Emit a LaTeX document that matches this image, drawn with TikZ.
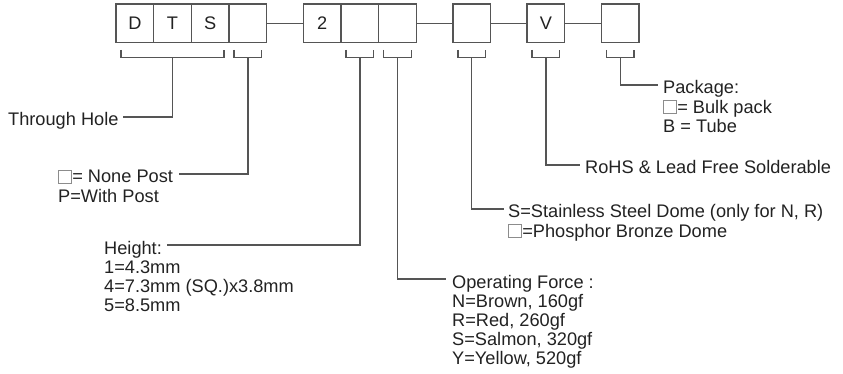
\documentclass[tikz,border=0pt]{standalone}
\usepackage{fontspec}
\setmainfont{Liberation Sans}
\usetikzlibrary{positioning,calc}

\definecolor{ink}{HTML}{222222}
\definecolor{wire}{HTML}{555555}
\definecolor{sqgray}{HTML}{8C8C8C}

% small empty square used inside the legend texts
\newcommand{\emptysq}{\textcolor{sqgray}{\setlength{\fboxsep}{0pt}\setlength{\fboxrule}{0.9pt}\fbox{\rule{0pt}{12.3pt}\hspace{12.3pt}}}}
% bracket under a run of cells, with a coordinate at its middle
\newcommand{\partbracket}[3]{%
  \draw[link] ($(#1.south west)+(5,7.5)$) -- ++(0,7.5) -- coordinate (#3) ($(#2.south east)+(-5,15)$) -- ++(0,-7.5);}

\begin{document}
\begin{tikzpicture}[x=1pt, y=-1pt, font=\fontsize{18.2}{19}\selectfont, text=ink,
  node distance=0pt and 36.5pt,
  cell/.style={draw=wire, line width=1.3pt, minimum width=37.7pt, minimum height=38.5pt, inner sep=0pt, outer sep=0pt},
  link/.style={draw=wire, line width=1.3pt},
  head/.style={inner sep=0pt, text height=18pt, text depth=0pt, anchor=base west},
  body/.style={inner sep=0pt, align=left, anchor=north west}]
  \useasboundingbox (0,0) rectangle (843,374);
  % part number cells
  \node[cell] (d) at (134.85,23.25) {D};
  \node[cell, right=0pt of d] (t) {T};
  \node[cell, right=0pt of t] (s) {S};
  \node[cell, right=0pt of s] (p) {};
  \node[cell, right=of p] (n) {2};
  \node[cell, right=0pt of n] (h) {};
  \node[cell, right=0pt of h] (f) {};
  \node[cell, right=of f] (m) {};
  \node[cell, right=of m] (v) {V};
  \node[cell, right=of v] (k) {};
  \draw[link] (p) -- (n);
  \draw[link] (f) -- (m);
  \draw[link] (m) -- (v);
  \draw[link] (v) -- (k);
  % brackets
  \partbracket{d}{s}{dtsb}
  \partbracket{p}{p}{postb}
  \partbracket{h}{h}{heightb}
  \partbracket{f}{f}{forceb}
  \partbracket{m}{m}{domeb}
  \partbracket{v}{v}{rohsb}
  \partbracket{k}{k}{packb}
  % legends
  \node[head] (thru) at (8,126) {Through Hole};
  \node[head] (post) at (58,183) {\emptysq= None Post};
  \node[below=5.7pt of post.base west, body] (postx) {\strut P=With Post};
  \node[head] (height) at (104,254) {Height:};
  \node[below=5.7pt of height.base west, body] (heightx) {\strut 1=4.3mm\\\strut 4=7.3mm (SQ.)x3.8mm\\\strut 5=8.5mm};
  \node[head] (force) at (452,288) {Operating Force :};
  \node[below=5.7pt of force.base west, body] (forcex) {\strut N=Brown, 160gf\\\strut R=Red, 260gf\\\strut S=Salmon, 320gf\\\strut Y=Yellow, 520gf};
  \node[head] (dome) at (508,218) {S=Stainless Steel Dome (only for N, R)};
  \node[below=5.7pt of dome.base west, body] (domex) {\strut\emptysq=Phosphor Bronze Dome};
  \node[head] (rohs) at (585,174) {RoHS \& Lead Free Solderable};
  \node[head] (pack) at (663,94) {Package:};
  \node[below=5.7pt of pack.base west, body] (packx) {\strut\emptysq= Bulk pack\\\strut B = Tube};
  % leaders
  \draw[link, shorten >=4pt] (dtsb) |- (thru.east);
  \draw[link, shorten >=6pt] (postb) |- (post.east);
  \draw[link, shorten >=5pt] (heightb) |- (height.east);
  \draw[link, shorten >=6pt] (forceb) |- (force.west);
  \draw[link, shorten >=4pt] (domeb) |- (dome.west);
  \draw[link, shorten >=5pt] (rohsb) |- (rohs.west);
  \draw[link, shorten >=5pt] (packb) |- (pack.west);
\end{tikzpicture}
\end{document}
